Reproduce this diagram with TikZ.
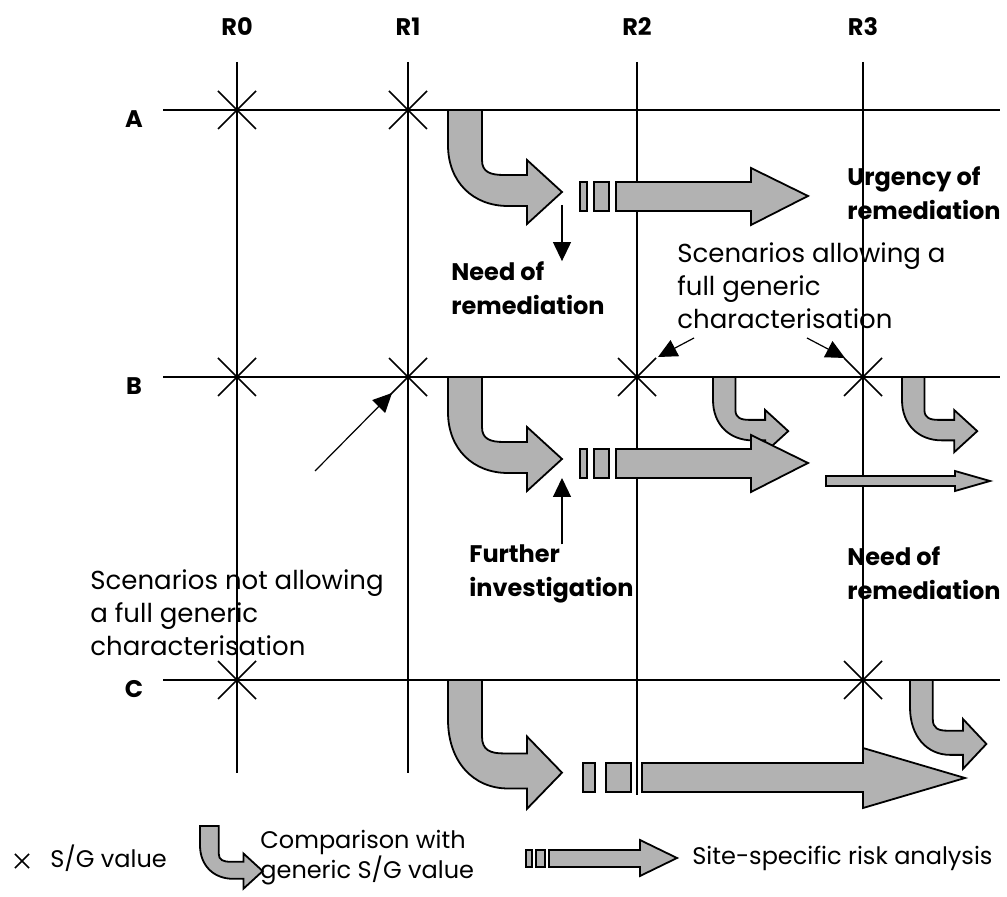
\documentclass[tikz,border=0pt]{standalone}
\usepackage{fontspec}
\setmainfont{Poppins}
\usetikzlibrary{arrows.meta,positioning}

\begin{document}
\begin{tikzpicture}[x=0.5pt,y=-0.5pt,
  gridline/.style={line width=0.9pt},
  arrowfill/.style={draw,line width=0.9pt,fill=black!30,line join=miter},
  pointer/.style={line width=0.6pt,-{Triangle[length=9.5pt,width=9pt]}},
  boldtext/.style={font=\fontsize{12}{17}\selectfont\bfseries,inner sep=0pt,align=left,anchor=west},
  normtext/.style={font=\fontsize{13}{16.5}\selectfont,inner sep=0pt,align=left,anchor=west},
  keytext/.style={font=\fontsize{12}{15}\selectfont,inner sep=0pt,align=left,anchor=west},
  sgmark/.pic={\draw[line width=0.8pt] (-19,-19) -- (19,19) (-19,19) -- (19,-19);},
  turnarrow/.pic={\draw[arrowfill] (0,0) -- (34,0) -- (34,50)
    .. controls (34,62) and (42,65) .. (56,65) -- (79,65) -- (79,50) -- (114,82)
    -- (79,114) -- (79,96) -- (60,96) .. controls (25,96) and (0,72) .. (0,35) -- cycle;}]

\useasboundingbox (0,0) rectangle (1007,897);

% grid of columns and rows
\foreach \n/\x/\b in {0/237/773,1/408/773,2/637/795,3/863/760}{
  \node[boldtext,anchor=center] (R\n) at (\x,27) {R\n};
  \draw[gridline] (\x,62) -- (\x,\b);
}
\foreach \r/\y in {A/110,B/377,C/680}{
  \node[boldtext,anchor=center] (\r) at (134,{\y+9}) {\r};
  \draw[gridline] (163,\y) -- (1000,\y);
}

% S/G values
\foreach \p in {(237,110),(408,110),(237,377),(408,377),(637,377),(863,377),(237,680),(863,680)}
  \pic at \p {sgmark};

% comparison arrows
\pic at (448,110) {turnarrow};
\pic at (448,377) {turnarrow};
\pic[yscale=1.13] at (448,680) {turnarrow};
\pic[scale=0.66] at (713,377) {turnarrow};
\pic[scale=0.66] at (902,377) {turnarrow};
\pic[xscale=0.67,yscale=0.78] at (910,680) {turnarrow};

% site-specific analysis
\foreach \dy in {0,267}{
  \begin{scope}[shift={(0,\dy)}]
    \draw[arrowfill] (580,182) rectangle (587,211);
    \draw[arrowfill] (594,182) rectangle (609,211);
    \draw[arrowfill] (616,182) -- (751,182) -- (751,168) -- (808,196)
      -- (751,225) -- (751,211) -- (616,211) -- cycle;
  \end{scope}
}
\draw[arrowfill] (826,476) -- (955,476) -- (955,471) -- (990,481)
  -- (955,491) -- (955,486) -- (826,486) -- cycle;
\draw[arrowfill] (583,763) rectangle (595,792);
\draw[arrowfill] (606,763) rectangle (631,792);
\draw[arrowfill] (642,763) -- (863,763) -- (863,748) -- (965,778)
  -- (863,808) -- (863,792) -- (642,792) -- cycle;

% texts
\node[boldtext] (needA) at (451,288) {Need of\\remediation};
\node[boldtext] (urgency) at (847,193) {Urgency of\\remediation};
\node[normtext] (allowing) at (677,286) {Scenarios allowing a\\full generic\\characterisation};
\node[normtext] (notall) at (90,613) {Scenarios not allowing\\a full generic\\characterisation};
\node[boldtext] (further) at (469,574) {Further\\investigation};
\node[boldtext] (needB) at (847,573) {Need of\\remediation};

% pointers
\coordinate (needtop) at (562,205);
\coordinate (furthertip) at (562,478);
\coordinate (notallstart) at (315,471);
\coordinate (sgBone) at (392,393);
\coordinate (allowleft) at (694,338);
\coordinate (sgBtwo) at (658,357);
\coordinate (allowright) at (807,338);
\coordinate (sgBthree) at (845,358);
\draw[pointer] (needtop) -- (needA.north -| needtop);
\draw[pointer] (further.north -| furthertip) -- (furthertip);
\draw[pointer] (notallstart) -- (sgBone);
\draw[pointer] (allowleft) -- (sgBtwo);
\draw[pointer] (allowright) -- (sgBthree);

% legend
\pic[scale=0.37] at (22,861) {sgmark};
\node[keytext] (sgval) at (50,858) {S/G value};
\pic[scale=0.55] at (200,826) {turnarrow};
\node[keytext] (compare) at (260,858) {Comparison with\\generic S/G value};
\draw[arrowfill] (526,850) rectangle (532,867);
\draw[arrowfill] (536,850) rectangle (545,867);
\draw[arrowfill] (549,850) -- (640,850) -- (640,840) -- (677,858)
  -- (640,876) -- (640,867) -- (549,867) -- cycle;
\node[keytext] (site) at (692,858) {Site-specific risk analysis};
\end{tikzpicture}
\end{document}
